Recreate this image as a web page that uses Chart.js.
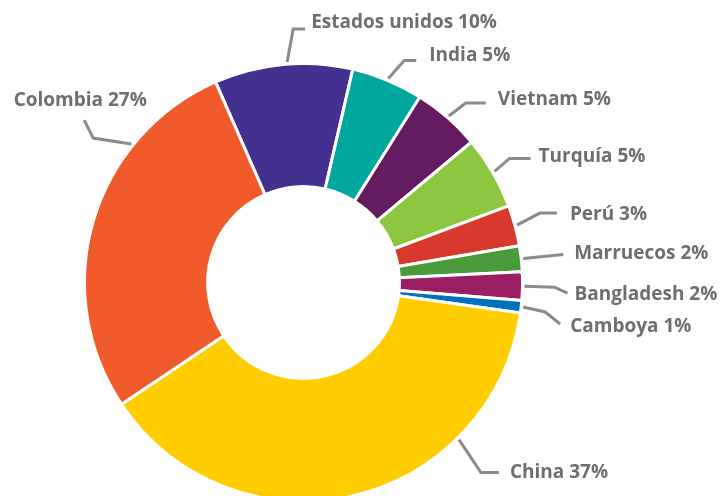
<!DOCTYPE html>
<html>
<head>
<meta charset="utf-8">
<script src="https://cdn.jsdelivr.net/npm/chart.js@4"></script>
<style>
  html, body { margin: 0; padding: 0; background: #fff; }
  #wrap { width: 722px; height: 496px; overflow: hidden; }
</style>
</head>
<body>
<div id="wrap"><canvas id="origenChart" width="722" height="496"></canvas></div>
<script>
// datos (porcentaje de cada país)
const paises = ['Estados unidos', 'India', 'Vietnam', 'Turquía', 'Perú', 'Marruecos', 'Bangladesh', 'Camboya', 'China', 'Colombia'];
const valores = [10.2, 5.3, 5.0, 5.4, 3.0, 1.9, 2.1, 0.9, 38.4, 27.8];
const etiquetasPct = ['10%', '5%', '5%', '5%', '3%', '2%', '2%', '1%', '37%', '27%'];
const colores = ['#43308f', '#00a79d', '#641a5f', '#8dc63f', '#d9392d', '#4a9a3c', '#9b1e62', '#0072bc', '#ffcd00', '#f15a2b'];

// where each leader line leaves its slice and how it bends to the label
// frac = position inside the slice, elbow/tail = relative offsets, txt = text offset
const guias = [
    { frac: 0.53, elbow: [6, -33], tail: [12, 0], txt: [6, -7], align: 'left' },
    { frac: 0.5, elbow: [16, -18], tail: [12, 0], txt: [13, -5], align: 'left' },
    { frac: 0.5, elbow: [17, -13], tail: [20, 0], txt: [12, -3], align: 'left' },
    { frac: 0.5, elbow: [15, -13], tail: [21, 0], txt: [8, -2], align: 'left' },
    { frac: 0.5, elbow: [23, -12], tail: [17, 0], txt: [13, 2], align: 'left' },
    { frac: 0.5, elbow: [20, -2], tail: [20, -2], txt: [11, -1], align: 'left' },
    { frac: 0.5, elbow: [30, 1], tail: [13, 6], txt: [7, 1], align: 'left' },
    { frac: 0.5, elbow: [22, 5], tail: [15, 12], txt: [10, 3], align: 'left' },
    { frac: 0.27, elbow: [22, 33], tail: [18, 0], txt: [11, 0], align: 'left' },
    { frac: 0.725, elbow: [-38, -6], tail: [-9, -18], txt: [-4, -19], align: 'center' }
];

const leaderLabels = {
    id: 'leaderLabels',
    afterDatasetsDraw(chart) {
        const ctx = chart.ctx;
        const arcs = chart.getDatasetMeta(0).data;
        ctx.save();
        arcs.forEach((arc, i) => {
            const g = guias[i];
            const a = arc.startAngle + g.frac * (arc.endAngle - arc.startAngle);
            const r = arc.outerRadius + 2;
            const x0 = arc.x + Math.cos(a) * r;
            const y0 = arc.y + Math.sin(a) * r;
            const x1 = x0 + g.elbow[0], y1 = y0 + g.elbow[1];
            const x2 = x1 + g.tail[0], y2 = y1 + g.tail[1];

            ctx.strokeStyle = '#8a8b8d';
            ctx.lineWidth = 3;
            ctx.lineJoin = 'miter';
            ctx.beginPath();
            ctx.moveTo(x0, y0);
            ctx.lineTo(x1, y1);
            ctx.lineTo(x2, y2);
            ctx.stroke();

            ctx.fillStyle = '#6d6e71';
            ctx.font = 'bold 19px "Open Sans"';
            ctx.textAlign = g.align;
            ctx.textBaseline = 'middle';
            ctx.fillText(paises[i] + ' ' + etiquetasPct[i], x2 + g.txt[0], y2 + g.txt[1]);
        });
        ctx.restore();
    }
};

const ctx = document.getElementById('origenChart').getContext('2d');

new Chart(ctx, {
    type: 'doughnut',
    data: {
        labels: paises,
        datasets: [{
            data: valores,
            backgroundColor: colores,
            borderColor: '#ffffff',
            borderWidth: 3,
            hoverOffset: 0
        }]
    },
    options: {
        responsive: false,
        animation: false,
        rotation: -23.7,
        radius: 219,
        cutout: '43.8%',
        layout: {
            padding: { left: 0, right: 115, top: 69, bottom: 0 }
        },
        plugins: {
            legend: { display: false },
            tooltip: { enabled: false }
        }
    },
    plugins: [leaderLabels]
});
</script>
</body>
</html>
